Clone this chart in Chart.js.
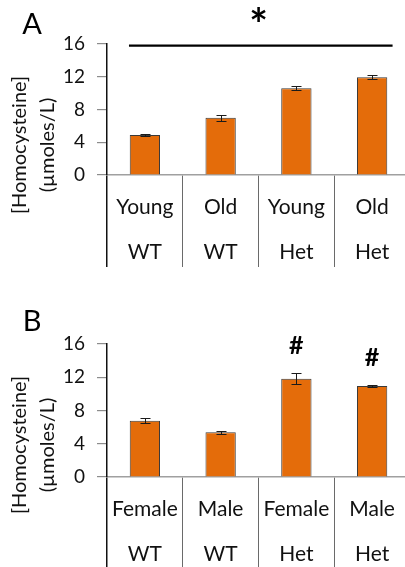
<!DOCTYPE html>
<html><head><meta charset="utf-8">
<script src="https://cdn.jsdelivr.net/npm/chart.js@4/dist/chart.umd.min.js"></script>
<style>
html,body{margin:0;padding:0;background:#fff;overflow:hidden;width:405px;height:567px;position:relative}
.panel{position:absolute;left:0;width:410px}
canvas{display:block}
</style></head><body>
<div class="panel" style="top:0;height:283px"><canvas id="cA" width="410" height="283"></canvas></div>
<div class="panel" style="top:283px;height:284px"><canvas id="cB" width="410" height="284"></canvas></div>
<script>
// ---- data ----
const categoriesA = [['Young','WT'],['Old','WT'],['Young','Het'],['Old','Het']];
const valuesA = [4.9, 7.0, 10.6, 11.95];
const errorsA = [0.1, 0.37, 0.24, 0.24];
const categoriesB = [['Female','WT'],['Male','WT'],['Female','Het'],['Male','Het']];
const valuesB = [6.78, 5.38, 11.83, 10.95];
const errorsB = [0.28, 0.2, 0.69, 0.08];
const marksB = ['', '', '#', '#'];
const sigA = {from: 0, to: 3, value: 15.8, mark: '*'};
const yMin = 0, yMax = 16, yStep = 4;
const yTitle = ['[Homocysteine]', '(\u00B5moles/L)'];
const panelLabels = ['A', 'B'];

const FONT = 'Lato, "Open Sans", sans-serif';

const annot = {
  id: 'annot',
  afterDatasetsDraw(chart, args, o) {
    const {ctx, scales: {x, y}, chartArea} = chart;
    const data = chart.data.datasets[0].data;
    const catW = x.width / data.length;
    ctx.save();
    // error bars
    ctx.strokeStyle = '#1a1a1a';
    ctx.lineWidth = 1;
    data.forEach((v, i) => {
      const cx = Math.round(x.getPixelForValue(i)) + 0.5;
      const yt = Math.round(y.getPixelForValue(v + o.errors[i])) + 0.5;
      const yb = Math.round(y.getPixelForValue(v - o.errors[i])) + 0.5;
      const hw = 5;
      ctx.beginPath();
      ctx.moveTo(cx, yt); ctx.lineTo(cx, yb);
      ctx.moveTo(cx - hw, yt); ctx.lineTo(cx + hw, yt);
      ctx.moveTo(cx - hw, yb); ctx.lineTo(cx + hw, yb);
      ctx.stroke();
    });
    ctx.fillStyle = '#000';
    // significance bracket
    if (o.sig) {
      const x1 = x.getPixelForValue(o.sig.from) - 0.21 * catW;
      const x2 = x.getPixelForValue(o.sig.to) + 0.27 * catW;
      const yy = y.getPixelForValue(o.sig.value);
      ctx.lineWidth = 2.2;
      ctx.strokeStyle = '#000';
      ctx.beginPath(); ctx.moveTo(x1, yy); ctx.lineTo(x2, yy); ctx.stroke();
      ctx.font = 'bold 44px ' + FONT;
      ctx.textAlign = 'center'; ctx.textBaseline = 'middle';
      ctx.fillText(o.sig.mark, (chartArea.left + chartArea.right) / 2, yy - 20);
    }
    // per-bar marks
    if (o.marks) {
      ctx.font = 'bold 25px ' + FONT;
      ctx.textAlign = 'center'; ctx.textBaseline = 'middle';
      o.marks.forEach((m, i) => {
        if (!m) return;
        const yt = y.getPixelForValue(data[i] + o.errors[i]);
        ctx.fillText(m, x.getPixelForValue(i), yt - 27);
      });
    }
    // panel label
    ctx.font = '29px ' + FONT;
    ctx.textAlign = 'center'; ctx.textBaseline = 'middle';
    ctx.fillText(o.label, 32, chartArea.top + o.labelDy);
    // y title
    ctx.font = '20px ' + FONT;
    ctx.fillStyle = '#111';
    const cy = chartArea.top + 101;
    ctx.translate(0, cy);
    ctx.rotate(-Math.PI / 2);
    ctx.fillText(yTitle[0], 0, 20);
    ctx.fillText(yTitle[1], 0, 48);
    ctx.restore();
  }
};

function makeChart(id, cats, vals, errs, opts) {
  return new Chart(document.getElementById(id), {
    type: 'bar',
    data: {
      labels: cats,
      datasets: [{
        data: vals,
        backgroundColor: '#E46C0A',
        borderColor: '#3a3a3a',
        borderWidth: 1,
        categoryPercentage: 1,
        barPercentage: 0.4
      }]
    },
    options: {
      responsive: false,
      animation: false,
      devicePixelRatio: 1,
      layout: {padding: {top: opts.top, left: 0, right: 0, bottom: 0}},
      plugins: {
        legend: {display: false},
        tooltip: {enabled: false},
        annot: {errors: errs, sig: opts.sig, marks: opts.marks, label: opts.label, labelDy: opts.labelDy}
      },
      scales: {
        x: {
          grid: {
            offset: true, drawOnChartArea: false, drawTicks: true,
            tickLength: opts.tl,
            color: (c) => c.index === 0 ? '#111' : '#6a6a6a',
            lineWidth: (c) => c.index === 0 ? 1.5 : 1
          },
          border: {display: true, color: '#a0a0a0', width: 1.5},
          ticks: {
            color: '#111', autoSkip: false, maxRotation: 0,
            padding: 9.5 - opts.tl,
            font: {family: FONT, size: 21, lineHeight: '45px'}
          },
          afterFit: (s) => { s.height = opts.xh; }
        },
        y: {
          min: yMin, max: yMax,
          grid: {drawOnChartArea: false, drawTicks: true, tickLength: 10, color: '#8c8c8c', lineWidth: 1.2},
          border: {display: true, color: '#111', width: 1.5},
          ticks: {stepSize: yStep, color: '#111', padding: 12, font: {family: FONT, size: 19}},
          afterFit: (s) => { s.width = 107; }
        }
      }
    },
    plugins: [annot]
  });
}

makeChart('cA', categoriesA, valuesA, errorsA, {top: 44, xh: 108, tl: 92, sig: sigA, marks: null, label: panelLabels[0], labelDy: -19});
makeChart('cB', categoriesB, valuesB, errorsB, {top: 61, xh: 90, tl: 90, sig: null, marks: marksB, label: panelLabels[1], labelDy: -22});
</script>
</body></html>
